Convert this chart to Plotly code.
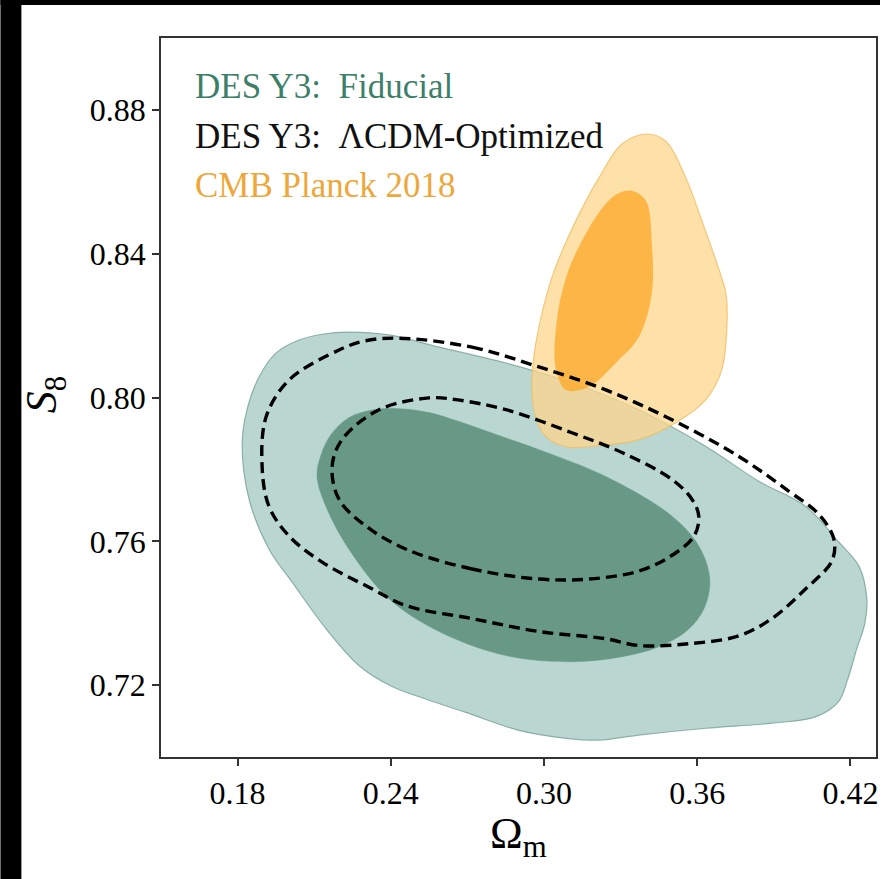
import plotly.graph_objects as go

# Omega_m / S8 constraint contours (outlines of the 68% and 95% regions)
des_fid_95_om = [0.2236, 0.2393, 0.2589, 0.2851, 0.3109, 0.3371, 0.3634, 0.3841, 0.4025, 0.4154,
                 0.4233, 0.4264, 0.4256, 0.4225, 0.4190, 0.4154, 0.4068, 0.3892, 0.3634, 0.3371,
                 0.3215, 0.3086, 0.2902, 0.2694, 0.2550, 0.2405, 0.2276, 0.2146, 0.2013, 0.1923,
                 0.1845, 0.1818, 0.1837, 0.1884, 0.1951, 0.2041, 0.2131]
des_fid_95_s8 = [0.8182, 0.8174, 0.8140, 0.8096, 0.8041, 0.7966, 0.7864, 0.7767, 0.7697, 0.7598,
                 0.7531, 0.7440, 0.7371, 0.7302, 0.7218, 0.7155, 0.7113, 0.7094, 0.7080, 0.7061,
                 0.7047, 0.7052, 0.7074, 0.7124, 0.7158, 0.7196, 0.7254, 0.7357, 0.7487, 0.7578,
                 0.7717, 0.7869, 0.7966, 0.8057, 0.8124, 0.8160, 0.8176]

des_fid_68_om = [0.2980, 0.3242, 0.3501, 0.3606, 0.3649, 0.3626, 0.3559, 0.3450, 0.3305, 0.3109,
                 0.2851, 0.2589, 0.2393, 0.2236, 0.2146, 0.2111, 0.2127, 0.2166, 0.2236, 0.2334,
                 0.2432, 0.2550, 0.2667, 0.2824]
des_fid_68_s8 = [0.7855, 0.7780, 0.7670, 0.7587, 0.7495, 0.7412, 0.7351, 0.7307, 0.7279, 0.7265,
                 0.7282, 0.7349, 0.7440, 0.7578, 0.7697, 0.7780, 0.7841, 0.7897, 0.7944, 0.7966,
                 0.7969, 0.7958, 0.7933, 0.7894]

des_opt_95_om = [0.2432, 0.2718, 0.2980, 0.3242, 0.3501, 0.3763, 0.3959, 0.4076, 0.4135, 0.4127,
                 0.4025, 0.3892, 0.3763, 0.3567, 0.3371, 0.3242, 0.2980, 0.2718, 0.2460, 0.2326,
                 0.2131, 0.2002, 0.1923, 0.1896, 0.1912, 0.2002, 0.2197, 0.2295]
des_opt_95_s8 = [0.8165, 0.8140, 0.8085, 0.8021, 0.7938, 0.7836, 0.7739, 0.7675, 0.7606, 0.7545,
                 0.7468, 0.7385, 0.7337, 0.7315, 0.7310, 0.7329, 0.7349, 0.7385, 0.7421, 0.7468,
                 0.7542, 0.7614, 0.7697, 0.7808, 0.7947, 0.8049, 0.8132, 0.8157]

des_opt_68_om = [0.2980, 0.2718, 0.2460, 0.2303, 0.2197, 0.2170, 0.2209, 0.2354, 0.2550, 0.2655,
                 0.2851, 0.3109, 0.3305, 0.3501, 0.3579, 0.3606, 0.3587, 0.3497, 0.3371, 0.3176]
des_opt_68_s8 = [0.7495, 0.7523, 0.7578, 0.7642, 0.7717, 0.7808, 0.7883, 0.7966, 0.7999, 0.7994,
                 0.7966, 0.7902, 0.7847, 0.7772, 0.7717, 0.7670, 0.7614, 0.7559, 0.7517, 0.7495]

planck_95_om = [0.3716, 0.3696, 0.3634, 0.3516, 0.3371, 0.3215, 0.3086, 0.3000, 0.2960, 0.2953,
                0.2968, 0.3031, 0.3125, 0.3215, 0.3305, 0.3399, 0.3477, 0.3555, 0.3618, 0.3673,
                0.3712]
planck_95_s8 = [0.8196, 0.8077, 0.7994, 0.7930, 0.7883, 0.7866, 0.7863, 0.7897, 0.7966, 0.8049,
                0.8151, 0.8334, 0.8492, 0.8611, 0.8705, 0.8733, 0.8713, 0.8611, 0.8492, 0.8381,
                0.8290]

planck_68_om = [0.3047, 0.3086, 0.3164, 0.3242, 0.3293, 0.3344, 0.3399, 0.3422, 0.3422, 0.3371,
                0.3281, 0.3176, 0.3086, 0.3047]
planck_68_s8 = [0.8196, 0.8334, 0.8456, 0.8539, 0.8569, 0.8575, 0.8547, 0.8428, 0.8290, 0.8168,
                0.8096, 0.8030, 0.8021, 0.8077]

x_ticks = [0.18, 0.24, 0.30, 0.36, 0.42]
y_ticks = [0.72, 0.76, 0.80, 0.84, 0.88]
legend_labels = ["DES Y3:\u00a0 Fiducial", "DES Y3:\u00a0 \u039bCDM-Optimized", "CMB Planck 2018"]

SERIF = "Liberation Serif"


def closed(vals):
    return list(vals) + [vals[0]]


fig = go.Figure()


def filled(xs, ys, fill, edge, edge_w):
    fig.add_trace(go.Scatter(
        x=closed(xs), y=closed(ys), mode="lines", fill="toself",
        fillcolor=fill, line=dict(color=edge, width=edge_w, shape="spline", smoothing=1.0),
        hoverinfo="skip", showlegend=False))


def dashed(xs, ys):
    fig.add_trace(go.Scatter(
        x=closed(xs), y=closed(ys), mode="lines",
        line=dict(color="black", width=3.4, dash="11px,6px", shape="spline", smoothing=1.0),
        hoverinfo="skip", showlegend=False))


filled(des_fid_95_om, des_fid_95_s8, "rgb(185,215,208)", "rgba(120,160,150,0.8)", 1.2)
filled(des_fid_68_om, des_fid_68_s8, "rgb(103,153,134)", "rgba(103,153,134,1)", 0.5)
filled(planck_95_om, planck_95_s8, "rgba(253,214,140,0.75)", "rgba(240,190,100,0.8)", 1.2)
filled(planck_68_om, planck_68_s8, "rgba(253,170,45,0.8)", "rgba(253,170,45,0.0)", 0.5)
dashed(des_opt_95_om, des_opt_95_s8)
dashed(des_opt_68_om, des_opt_68_s8)

W, H = 882, 879
L, R, T, B = 161, 4, 38, 122
pw, ph = W - L - R, H - T - B


def px_x(p):
    return (p - L) / pw


def px_y(p):
    return (H - B - p) / ph


legend_colors = ["#3d7f69", "#111111", "#eea73a"]
legend_y = [86, 136, 185]
annotations = []
for text, col, yy in zip(legend_labels, legend_colors, legend_y):
    annotations.append(dict(
        x=px_x(193), y=px_y(yy), xref="paper", yref="paper", xanchor="left", yanchor="middle",
        text=text, showarrow=False, font=dict(family=SERIF, size=35, color=col)))

annotations.append(dict(
    x=0.5, y=px_y(836), xref="paper", yref="paper", xanchor="center", yanchor="middle",
    text="\u03a9<sub>m</sub>", showarrow=False, font=dict(family=SERIF, size=44, color="black")))
annotations.append(dict(
    x=px_x(44), y=px_y(395), xref="paper", yref="paper", xanchor="center", yanchor="middle",
    text="<i>S</i><sub>8</sub>", textangle=-90, showarrow=False,
    font=dict(family=SERIF, size=44, color="black")))

# dark frame bands along the top and left page edges
shapes = [
    dict(type="rect", xref="paper", yref="paper", x0=px_x(0), x1=px_x(21), y0=px_y(H), y1=px_y(0),
         fillcolor="black", line=dict(width=0), layer="above"),
    dict(type="rect", xref="paper", yref="paper", x0=px_x(0), x1=px_x(W), y0=px_y(5), y1=px_y(0),
         fillcolor="black", line=dict(width=0), layer="above"),
]

axis_common = dict(
    showgrid=False, zeroline=False, showline=True, mirror=True, linecolor="#333333", linewidth=1.5,
    ticks="outside", ticklen=7, tickwidth=1.5, tickcolor="#333333",
    tickfont=dict(family=SERIF, size=32, color="black"),
)

fig.update_layout(
    width=W, height=H,
    margin=dict(l=L, r=R, t=T, b=B),
    paper_bgcolor="white", plot_bgcolor="white",
    xaxis=dict(range=[0.15, 0.43], tickvals=x_ticks, ticktext=[f"{v:.2f}" for v in x_ticks], **axis_common),
    yaxis=dict(range=[0.70, 0.90], tickvals=y_ticks, ticktext=[f"{v:.2f}" for v in y_ticks], **axis_common),
    annotations=annotations,
    shapes=shapes,
    showlegend=False,
)

fig.write_html("out.html")
